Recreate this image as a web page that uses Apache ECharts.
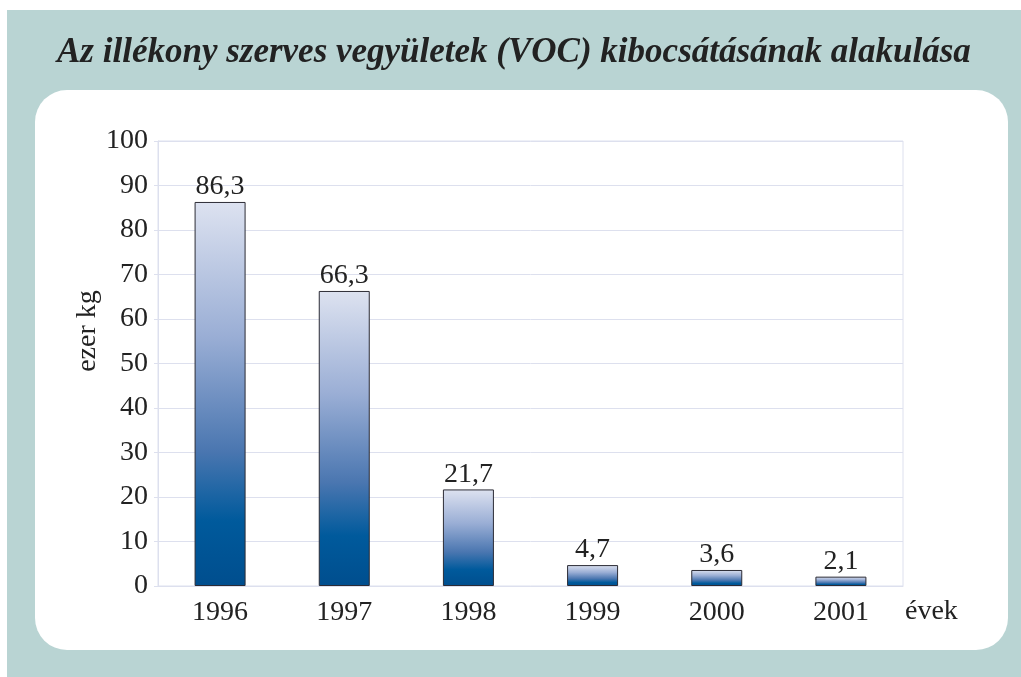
<!DOCTYPE html>
<html>
<head>
<meta charset="utf-8">
<style>
  html, body { margin: 0; padding: 0; background: #fff; }
  #chart { width: 1021px; height: 677px; }
</style>
<script src="https://cdn.jsdelivr.net/npm/echarts@6/dist/echarts.min.js"></script>
</head>
<body>
<div id="chart"></div>
<script>
const years = ['1996', '1997', '1998', '1999', '2000', '2001']
const vocValues = [86.3, 66.3, 21.7, 4.7, 3.6, 2.1]
const yTicks = { min: 0, max: 100, interval: 10 }

const chart = echarts.init(document.getElementById('chart'))

const barGradient = new echarts.graphic.LinearGradient(0, 0, 0, 1, [
  { offset: 0, color: '#dde2f0' },
  { offset: 0.35, color: '#9aaed5' },
  { offset: 0.65, color: '#4a76b0' },
  { offset: 0.83, color: '#005a9c' },
  { offset: 1, color: '#004e8e' }
])

const serif = '"Liberation Serif", "DejaVu Serif", serif'

const option = {
  animation: false,
  graphic: [
    {
      type: 'rect',
      z: -10,
      shape: { x: 7, y: 10, width: 1014, height: 667 },
      style: { fill: '#b9d4d3' }
    },
    {
      type: 'rect',
      z: -9,
      shape: { x: 35, y: 90, width: 973, height: 560, r: 32 },
      style: { fill: '#ffffff' }
    },
    {
      type: 'text',
      left: 57,
      top: 35,
      style: {
        text: 'Az illékony szerves vegyületek (VOC) kibocsátásának alakulása',
        font: 'italic bold 35px ' + serif,
        fill: '#222222'
      }
    },
    {
      type: 'text',
      x: 88,
      y: 331,
      rotation: Math.PI / 2,
      style: {
        text: 'ezer kg',
        font: '28px ' + serif,
        fill: '#222222',
        align: 'center',
        verticalAlign: 'middle'
      }
    },
    {
      type: 'text',
      left: 905,
      top: 598,
      style: {
        text: 'évek',
        font: '28px ' + serif,
        fill: '#222222'
      }
    }
  ],
  grid: {
    left: 158,
    right: 118,
    top: 141,
    bottom: 91,
    show: true,
    borderColor: '#dde0ee',
    borderWidth: 1
  },
  xAxis: {
    type: 'category',
    data: years,
    axisLine: { show: true, lineStyle: { color: '#dde0ee' } },
    axisTick: { show: false },
    axisLabel: {
      color: '#222222',
      fontFamily: serif,
      fontSize: 28,
      margin: 13
    }
  },
  yAxis: {
    type: 'value',
    min: yTicks.min,
    max: yTicks.max,
    interval: yTicks.interval,
    axisLine: { show: true, lineStyle: { color: '#dde0ee' } },
    axisTick: { show: true, length: 4, lineStyle: { color: '#dde0ee' } },
    axisLabel: {
      color: '#222222',
      fontFamily: serif,
      fontSize: 28,
      margin: 10
    },
    splitLine: { lineStyle: { color: '#dde0ee', width: 1 } }
  },
  series: [
    {
      type: 'bar',
      data: vocValues,
      barWidth: 51,
      itemStyle: {
        color: barGradient,
        borderColor: '#2b2b35',
        borderWidth: 1
      },
      label: {
        show: true,
        position: 'top',
        distance: 1,
        color: '#222222',
        fontFamily: serif,
        fontSize: 28,
        formatter: (p) => String(p.value).replace('.', ',')
      }
    }
  ]
}

chart.setOption(option)
</script>
</body>
</html>
